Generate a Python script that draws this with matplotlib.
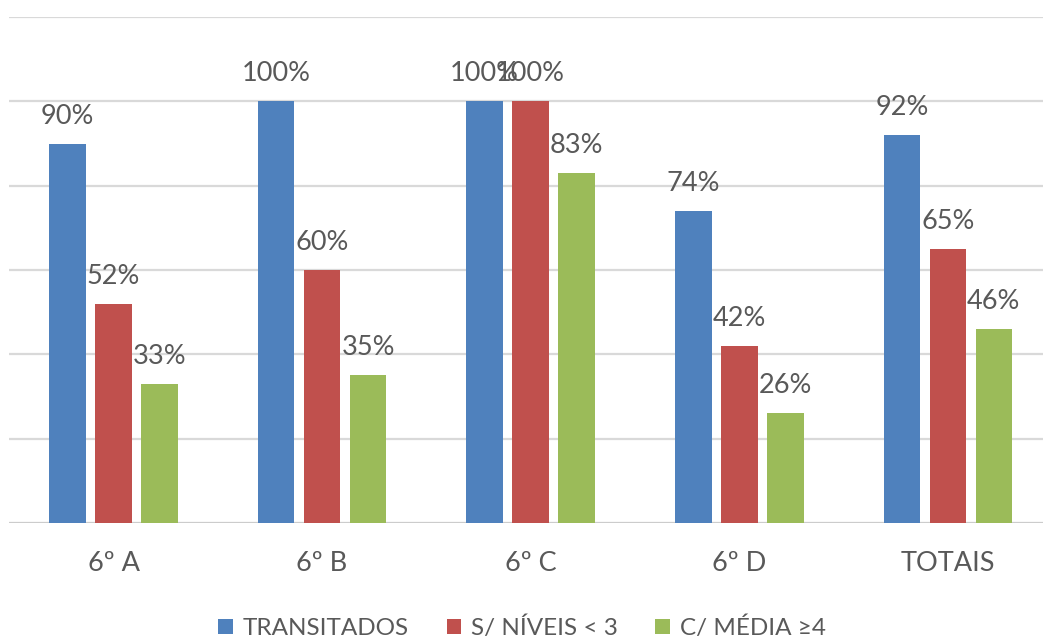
import matplotlib
matplotlib.use("Agg")
import numpy as np
import matplotlib.pyplot as plt

# values
turmas = ["6º A", "6º B", "6º C", "6º D", "TOTAIS"]
series_names = ["TRANSITADOS", "S/ NÍVEIS < 3", "C/ MÉDIA ≥4"]
transitados = [0.90, 1.00, 1.00, 0.74, 0.92]
niveis_menor3 = [0.52, 0.60, 1.00, 0.42, 0.65]
media_maior4 = [0.33, 0.35, 0.83, 0.26, 0.46]
colours = ["#4F81BD", "#C0504D", "#9BBB59"]

plt.rcParams['font.family'] = ['Lato', 'DejaVu Sans']
text_grey = "#595959"

fig = plt.figure(figsize=(10.43, 6.43), dpi=100)
ax = fig.add_axes([9.2 / 1043, 120 / 643, 1043 / 1043, 506 / 643])

x = np.arange(len(turmas))
pitch = 0.2205
width = 0.175
all_series = [transitados, niveis_menor3, media_maior4]

for i, (vals, name, col) in enumerate(zip(all_series, series_names, colours)):
    pos = x + (i - 1) * pitch
    bars = ax.bar(pos, vals, width, color=col, label=name, zorder=3)
    for b, v in zip(bars, vals):
        ax.annotate("{:.0f}%".format(v * 100),
                    (b.get_x() + b.get_width() / 2, v),
                    xytext=(0, 14.4), textcoords="offset points",
                    ha="center", va="baseline",
                    fontsize=19.5, color=text_grey, zorder=4)

ax.set_xlim(-0.5, len(turmas) - 0.5)
ax.set_ylim(0, 1.2)
ax.set_yticks(np.arange(0, 1.21, 0.2))
ax.yaxis.grid(True, color="#d9d9d9", linewidth=1.6, zorder=0)
ax.axhline(0, color="#cccccc", linewidth=2.2, zorder=2)
ax.tick_params(axis="y", left=False, labelleft=False)
ax.set_xticks(x)
ax.set_xticklabels(turmas)
ax.tick_params(axis="x", length=0, pad=20, labelsize=19.5, labelcolor=text_grey)
for s in ax.spines.values():
    s.set_visible(False)

leg = fig.legend(loc="center", bbox_to_anchor=(522 / 1043, 1 - 628 / 643),
                 ncol=3, frameon=False, fontsize=17.5,
                 handlelength=0.58, handleheight=0.58,
                 handletextpad=0.41, columnspacing=1.56)
for t in leg.get_texts():
    t.set_color(text_grey)

fig.savefig("out.png", dpi=100)
